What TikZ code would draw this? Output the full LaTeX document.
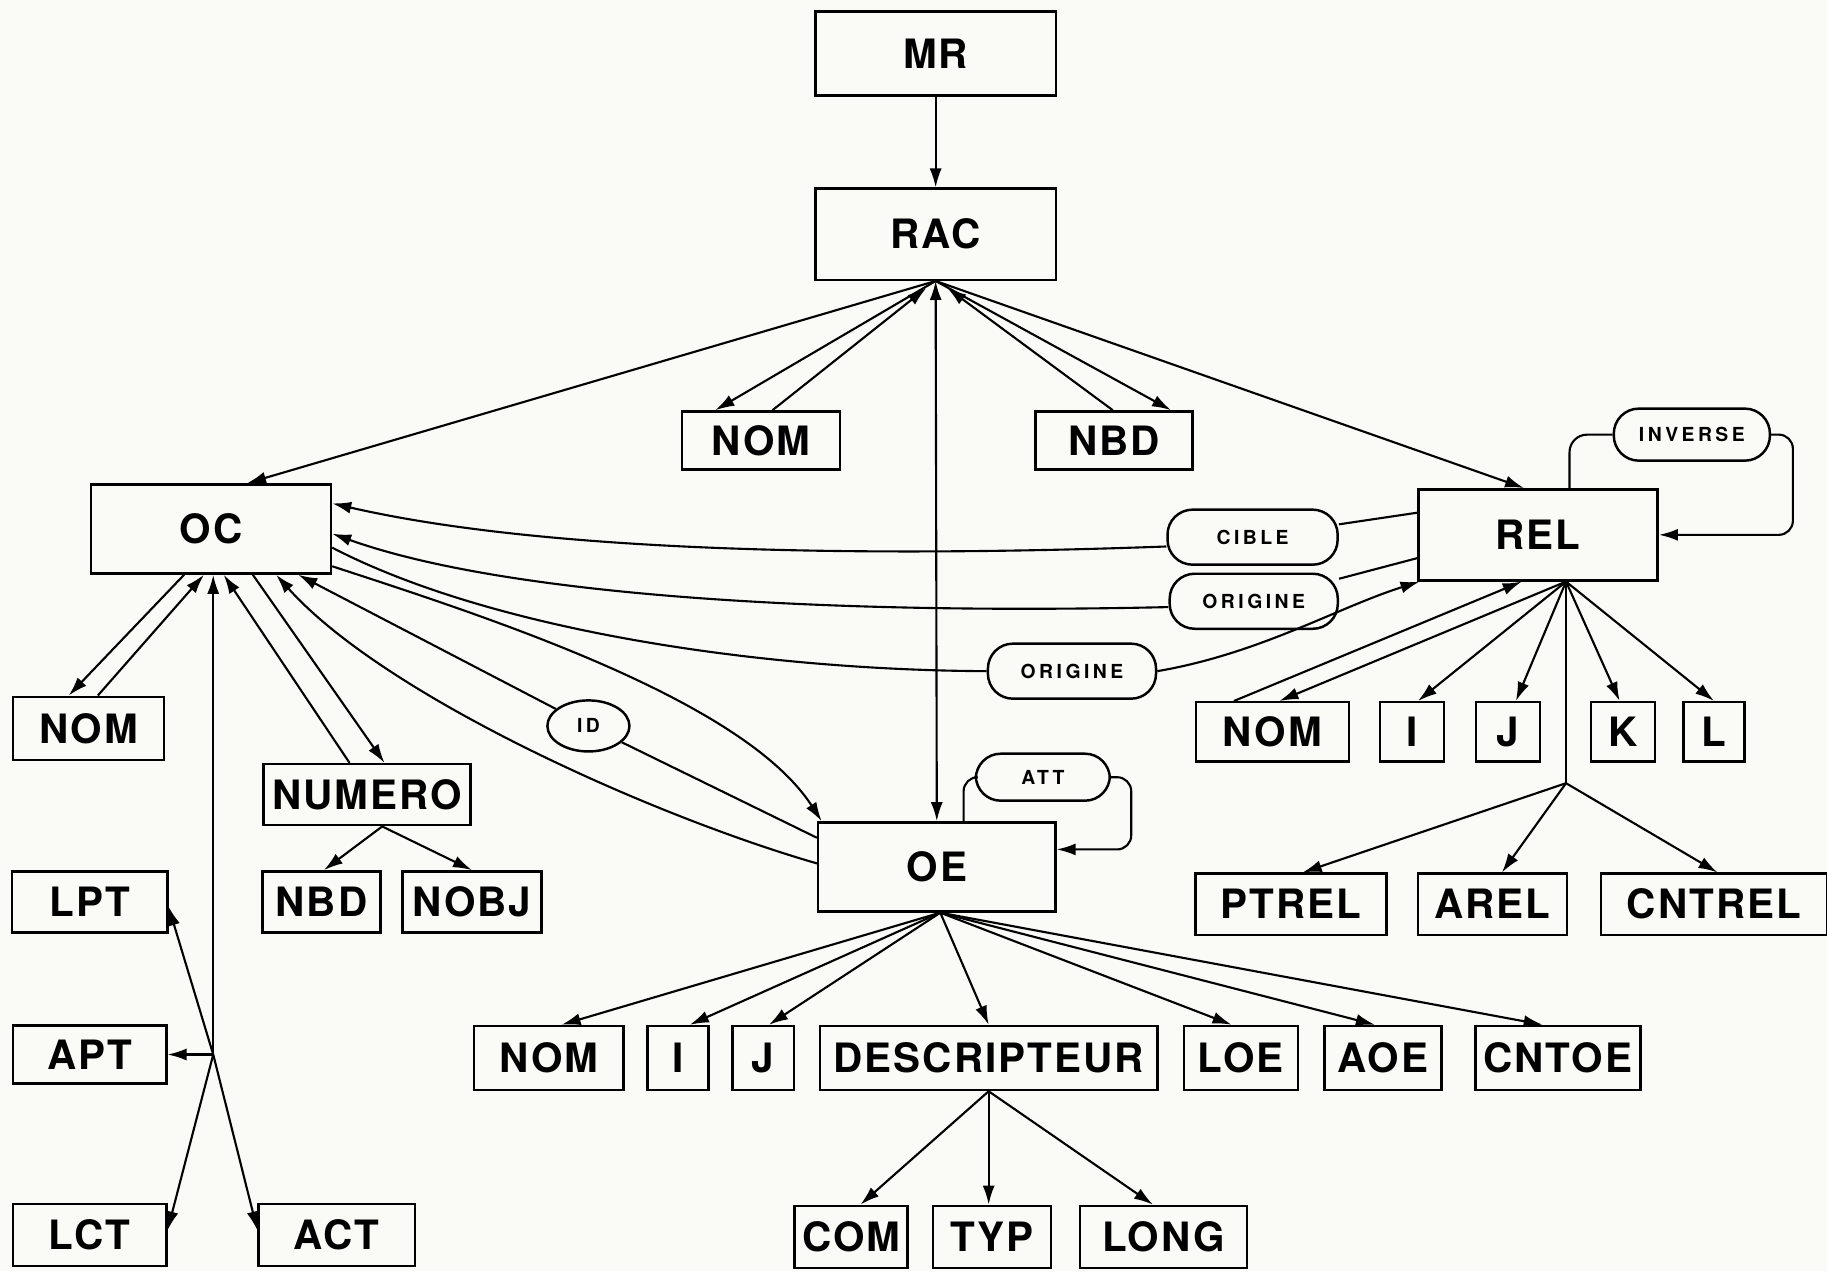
\documentclass[tikz,border=0pt]{standalone}
\usepackage{fontspec}
\newfontfamily\boxfont[LetterSpace=5]{TeX Gyre Heros}
\newfontfamily\tagfont[LetterSpace=18]{TeX Gyre Heros}
\usetikzlibrary{arrows.meta,calc,shapes.geometric}
\definecolor{paper}{RGB}{250,250,246}
\begin{document}
\begin{tikzpicture}[x=0.01165cm, y=-0.01165cm,
	box/.style 2 args={draw, line width=0.7pt, inner sep=0pt, minimum width=#1cm, minimum height=#2cm, font=\boxfont\bfseries\fontsize{11.5}{13}\selectfont},
	tag/.style 2 args={draw, line width=0.7pt, inner sep=0pt, rounded corners=2.5mm, minimum width=#1cm, minimum height=#2cm, font=\tagfont\bfseries\fontsize{5.5}{7}\selectfont},
	link/.style={line width=0.6pt, -{Latex[length=1.9mm,width=1.2mm]}},
	twoway/.style={line width=0.6pt, {Latex[length=1.9mm,width=1.2mm]}-{Latex[length=1.9mm,width=1.2mm]}},
	line/.style={line width=0.6pt}]
	\fill[paper] (0,0) rectangle (1568,1091);
	\useasboundingbox (0,0) rectangle (1568,1091);
	\node[box={2.40}{0.84}] (mr) at (803,46) {MR};
	\node[box={2.40}{0.91}] (rac) at (803,201) {RAC};
	\node[box={1.58}{0.58}] (nomr) at (653,378) {NOM};
	\node[box={1.57}{0.58}] (nbdr) at (956,378) {NBD};
	\node[box={2.40}{0.89}] (oc) at (181,454) {OC};
	\node[box={2.39}{0.91}] (rel) at (1320,459) {REL};
	\node[box={2.37}{0.89}] (oe) at (804,744) {OE};
	\node[box={1.51}{0.63}] (nomc) at (76,625) {NOM};
	\node[box={2.07}{0.61}] (numero) at (315,682) {NUMERO};
	\node[box={1.18}{0.61}] (nbdc) at (276,774) {NBD};
	\node[box={1.39}{0.61}] (nobj) at (405,774) {NOBJ};
	\node[box={1.55}{0.61}] (lpt) at (77,774) {LPT};
	\node[box={1.53}{0.58}] (apt) at (77,905) {APT};
	\node[box={1.53}{0.62}] (lct) at (77,1060) {LCT};
	\node[box={1.56}{0.62}] (act) at (289,1060) {ACT};
	\node[box={1.53}{0.59}] (nomrel) at (1092,628) {NOM};
	\node[box={0.64}{0.59}] (irel) at (1212,628) {I};
	\node[box={0.64}{0.59}] (jrel) at (1294,628) {J};
	\node[box={0.64}{0.59}] (krel) at (1393,628) {K};
	\node[box={0.61}{0.59}] (lrel) at (1471,628) {L};
	\node[box={1.91}{0.61}] (ptrel) at (1108,776) {PTREL};
	\node[box={1.49}{0.61}] (arel) at (1281,776) {AREL};
	\node[box={2.26}{0.61}] (cntrel) at (1471,776) {CNTREL};
	\node[box={1.49}{0.64}] (nomoe) at (471,908) {NOM};
	\node[box={0.61}{0.64}] (ioe) at (582,908) {I};
	\node[box={0.61}{0.64}] (joe) at (655,908) {J};
	\node[box={3.37}{0.64}] (descr) at (848.5,908) {DESCRIPTEUR};
	\node[box={1.14}{0.64}] (loe) at (1065,908) {LOE};
	\node[box={1.17}{0.64}] (aoe) at (1187,908) {AOE};
	\node[box={1.65}{0.64}] (cntoe) at (1337,908) {CNTOE};
	\node[box={1.13}{0.62}] (com) at (730.5,1061.5) {COM};
	\node[box={1.18}{0.62}] (typ) at (851.5,1061.5) {TYP};
	\node[box={1.67}{0.62}] (long) at (998.5,1061.5) {LONG};
	\node[tag={1.70}{0.55}] (cible) at (1075,461) {CIBLE};
	\node[tag={1.68}{0.55}] (origa) at (1076,516) {ORIGINE};
	\node[tag={1.68}{0.55}] (origb) at (920,576) {ORIGINE};
	\node[tag={1.56}{0.52}] (inverse) at (1452,373) {INVERSE};
	\node[tag={1.34}{0.47}] (att) at (895,667) {ATT};
	\node[tag={0.82}{0.51}, ellipse] (id) at (505,623) {ID};
	\coordinate (pt) at (183,905);
	\coordinate (relhub) at ($(rel.south)+(24,0)$);
	\coordinate (relfork) at ($(relhub)+(0,173)$);
	\coordinate (oehub) at ($(oe.south)+(3,0)$);
	\draw[link] (mr) -- (rac);
	\draw[link] (rac.south) -- ($(oc.north)+(31,0)$);
	\draw[link] (rac.south) -- ($(rel.north)+(-12,0)$);
	\draw[link] (rac.south) -- ($(nomr.north)+(-39,0)$);
	\draw[link] ($(nomr.north)+(10,0)$) -- ($(rac.south)+(-8,6)$);
	\draw[link] ($(nbdr.north)+(-1,0)$) -- ($(rac.south)+(10,6)$);
	\draw[link] (rac.south) -- ($(nbdr.north)+(49,0)$);
	\draw[twoway] (rac.south) -- (oe.north);
	\draw[link] ($(oc.south)+(-23,0)$) -- ($(nomc.north)+(-17,0)$);
	\draw[link] ($(nomc.north)+(8,0)$) -- ($(oc.south)+(-6,0)$);
	\draw[link] (pt) -- ($(oc.south)+(2,0)$);
	\draw[link] (pt) -- (apt.east);
	\draw[link] (pt) -- ($(lpt.east)+(0,4)$);
	\draw[link] (pt) -- ($(lct.east)+(0,-4)$);
	\draw[link] (pt) -- ($(act.west)+(0,-4)$);
	\draw[link] ($(numero.north)+(-15,0)$) -- ($(oc.south)+(11,0)$);
	\draw[link] ($(oc.south)+(36,0)$) -- ($(numero.north)+(15,0)$);
	\draw[link] ($(numero.south)+(13,0)$) -- ($(nbdc.north)+(2,0)$);
	\draw[link] ($(numero.south)+(13,0)$) -- (nobj.north);
	\draw[link] ($(oe.west)+(0,-3)$) .. controls +(-142,-41) and +(93,104) .. ($(oc.south)+(56,0)$);
	\draw[line] ($(oe.west)+(0,-25)$) -- (id);
	\draw[link] (id) -- ($(oc.south)+(75,0)$);
	\draw[link] ($(oc.east)+(0,32)$) .. controls +(135,44) and +(-67,-104) .. ($(oe.north west)+(4,0)$);
	\draw[line] ($(rel.west)+(0,-19)$) -- (cible);
	\draw[link] ($(cible.west)+(0,8)$) .. controls +(-302,11) and +(165,38) .. ($(oc.east)+(0,-22)$);
	\draw[line] ($(rel.west)+(0,20)$) -- (origa);
	\draw[link] ($(origa.west)+(0,5)$) .. controls +(-304,7) and +(145,52) .. ($(oc.east)+(0,4)$);
	\draw[line] ($(oc.east)+(0,16)$) .. controls +(135,70) and +(-199,-1) .. (origb.west);
	\draw[link] (origb.east) .. controls +(88,-15) and +(-70,22) .. ($(rel.south west)+(2,0)$);
	\draw[line, rounded corners=5pt] ($(rel.north)+(27,0)$) |- (inverse.west);
	\draw[link, rounded corners=4pt] (inverse.east) -| ($(rel.east)+(115,0)$) -- (rel.east);
	\draw[line, rounded corners=4pt] ($(oe.north)+(23,0)$) |- (att.west);
	\draw[link, rounded corners=4pt] (att.east) -| ($(oe.east)+(64,-15)$) -- ($(oe.east)+(0,-15)$);
	\draw[link] ($(nomrel.north)+(-33,0)$) -- ($(rel.south)+(-14,0)$);
	\draw[link] (relhub) -- ($(nomrel.north)+(6,0)$);
	\draw[link] (relhub) -- ($(irel.north)+(5,0)$);
	\draw[link] (relhub) -- ($(jrel.north)+(7,0)$);
	\draw[link] (relhub) -- ($(krel.north)+(-3,0)$);
	\draw[link] (relhub) -- (lrel.north);
	\draw[line] (relhub) -- (relfork);
	\draw[link] (relfork) -- ($(ptrel.north)+(10,0)$);
	\draw[link] (relfork) -- ($(arel.north)+(8,0)$);
	\draw[link] (relfork) -- ($(cntrel.north)+(3,0)$);
	\draw[link] (oehub) -- ($(nomoe.north)+(11,0)$);
	\draw[link] (oehub) -- ($(ioe.north)+(10,0)$);
	\draw[link] (oehub) -- ($(joe.north)+(5,0)$);
	\draw[link] (oehub) -- (descr.north);
	\draw[link] (oehub) -- ($(loe.north)+(-8,0)$);
	\draw[link] (oehub) -- ($(aoe.north)+(-7,0)$);
	\draw[link] (oehub) -- ($(cntoe.north)+(-13,0)$);
	\draw[link] (descr.south) -- ($(com.north)+(8,0)$);
	\draw[link] (descr.south) -- ($(typ.north)+(-3,0)$);
	\draw[link] (descr.south) -- ($(long.north)+(-9,0)$);
\end{tikzpicture}
\end{document}
